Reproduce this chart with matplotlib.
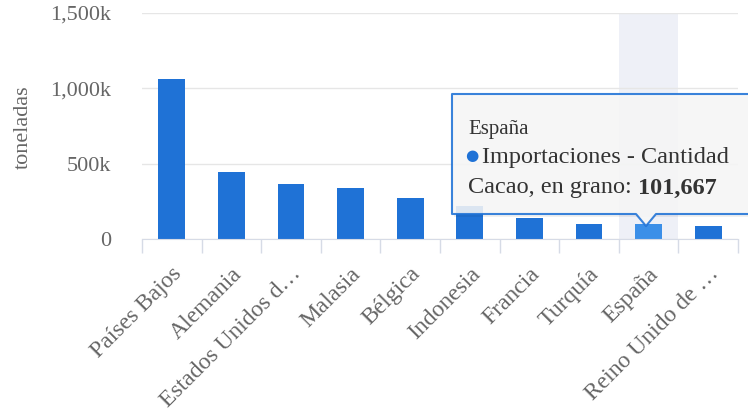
"""Importaciones de cacao en grano por país (toneladas), con tooltip de España."""

import matplotlib

matplotlib.use("Agg")

import matplotlib.pyplot as plt
from matplotlib.patches import Polygon, Rectangle
from matplotlib.ticker import FuncFormatter, FixedLocator
from matplotlib.transforms import ScaledTranslation

# --- data ------------------------------------------------------------------
countries = [
    "Países Bajos", "Alemania", "Estados Unidos d…", "Malasia", "Bélgica",
    "Indonesia", "Francia", "Turquía", "España", "Reino Unido de …",
]
tonnes = [1062000, 448000, 366000, 338000, 272000, 216000, 137000, 98000, 101667, 84000]
y_ticks = [0, 500000, 1000000, 1500000]
highlight = "España"

BAR = "#1f72d6"
BAR_HOVER = "#3b8fe8"
GRID = "#e6e6e6"
AXIS = "#d6dbe6"
TEXT = "#666666"
TIP_TEXT = "#333333"

W, H = 748, 417
plt.rcParams["font.family"] = ["Liberation Serif", "DejaVu Serif"]

fig = plt.figure(figsize=(W / 100, H / 100), dpi=100)
ax = fig.add_axes([142 / W, (H - 239) / H, (738 - 142) / W, (239 - 13) / H])

x = list(range(len(countries)))
hi = countries.index(highlight)

# hover band behind the highlighted category
ax.axvspan(hi - 0.5, hi + 0.5, color="#eef0f7", zorder=0, lw=0)

colors = [BAR_HOVER if c == highlight else BAR for c in countries]
ax.bar(x, tonnes, width=0.45, color=colors, zorder=2)

ax.set_xlim(-0.5, len(countries) - 0.5)
ax.set_ylim(0, 1500000)
ax.yaxis.set_major_locator(FixedLocator(y_ticks))
ax.yaxis.set_major_formatter(
    FuncFormatter(lambda v, _: "0" if v == 0 else f"{v / 1000:,.0f}k")
)
ax.grid(axis="y", color=GRID, lw=1, zorder=1)
ax.set_axisbelow(True)

for s in ("top", "right", "left"):
    ax.spines[s].set_visible(False)
ax.spines["bottom"].set_color(AXIS)
ax.spines["bottom"].set_zorder(3)

ax.tick_params(axis="y", length=0, pad=22, labelsize=16, labelcolor=TEXT)
ax.set_xticks(x)
ax.set_xticks([i - 0.5 for i in range(len(countries) + 1)], minor=True)
ax.tick_params(axis="x", which="major", length=0, pad=23)
ax.tick_params(axis="x", which="minor", length=10, color=AXIS, width=1)
ax.set_xticklabels(countries, rotation=45, ha="right", va="center",
                   rotation_mode="anchor", fontsize=17, color=TEXT)

# nudge rotated labels a little to the right of the category centre
for lbl in ax.get_xticklabels():
    lbl.set_transform(lbl.get_transform() + ScaledTranslation(0.07, 0, fig.dpi_scale_trans))

ax.set_ylabel("toneladas", fontsize=16, color=TEXT)
ax.yaxis.set_label_coords(33 / W, 1 - 127 / H, transform=fig.transFigure)


# --- tooltip (figure pixel coords, y down) ----------------------------------
def px(xp, yp):
    return (xp / W, 1 - yp / H)


tip_x, tip_y = 646, 226
box = [px(452, 94), px(770, 94), px(770, 214), px(tip_x + 10, 214),
       px(tip_x, tip_y), px(tip_x - 10, 214), px(452, 214)]
shadow = Rectangle(px(454, 217), (770 - 454) / W, (217 - 97) / H,
                   transform=fig.transFigure, facecolor="#000000", alpha=0.06,
                   lw=0, zorder=4)
fig.add_artist(shadow)
fig.add_artist(Polygon(box, closed=True, transform=fig.transFigure,
                       facecolor="#f7f7f7", alpha=0.88, edgecolor=BAR,
                       lw=1.5, joinstyle="round", zorder=5))

fig.text(*px(468, 129), highlight, fontsize=15, color=TIP_TEXT,
         va="center", zorder=6)
fig.text(*px(472, 156), "●", fontsize=11, color=BAR, va="center", ha="center",
         family="DejaVu Sans", zorder=6)
fig.text(*px(482, 157), "Importaciones - Cantidad", fontsize=17.5,
         color=TIP_TEXT, va="center", zorder=6)
body = fig.text(*px(468, 188), "Cacao, en grano: ", fontsize=17.5,
                color=TIP_TEXT, va="center", zorder=6)

# bold value placed right after the regular text
fig.canvas.draw()
bb = body.get_window_extent().transformed(fig.transFigure.inverted())
fig.text(bb.x1, bb.y0 + (bb.y1 - bb.y0) / 2, f"{tonnes[hi]:,}", fontsize=17.5,
         color=TIP_TEXT, weight="bold", va="center", zorder=6)

fig.savefig("out.png", dpi=100)
